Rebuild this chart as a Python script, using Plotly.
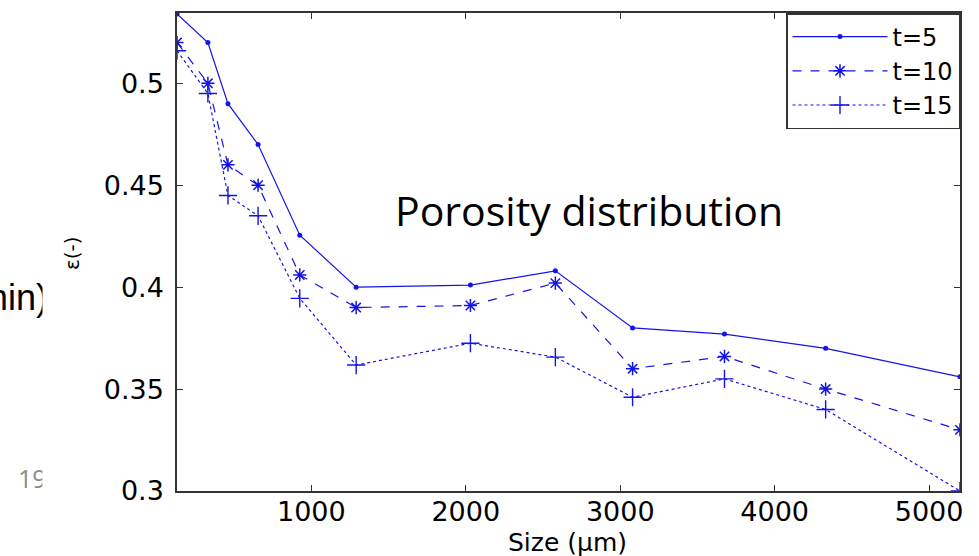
import plotly.graph_objects as go

# particle size (um) and porosity for each time
size_um = [130, 330, 460, 655, 925, 1290, 2030, 2580, 3080, 3675, 4330, 5200]
eps_t5 = [0.534, 0.520, 0.490, 0.470, 0.4255, 0.400, 0.401, 0.408, 0.380, 0.377, 0.370, 0.356]
eps_t10 = [0.520, 0.500, 0.460, 0.450, 0.406, 0.390, 0.391, 0.402, 0.360, 0.366, 0.350, 0.330]
eps_t15 = [0.516, 0.495, 0.445, 0.435, 0.3945, 0.3618, 0.3725, 0.3657, 0.346, 0.355, 0.340, 0.300]

x_ticks = [1000, 2000, 3000, 4000, 5000]
y_ticks = [0.3, 0.35, 0.4, 0.45, 0.5]
y_tick_text = ['0.3', '0.35', '0.4', '0.45', '0.5']

W, H = 979, 556
L, R, T, B = 177, 19, 13, 65
pw = W - L - R
ph = H - T - B

blue = '#1414e6'

fig = go.Figure()
fig.add_scatter(x=size_um, y=eps_t5, mode='lines+markers', name='t=5',
                line=dict(color=blue, width=1.2, dash='solid'),
                marker=dict(symbol='circle', size=5, color=blue))
fig.add_scatter(x=size_um, y=eps_t10, mode='lines+markers', name='t=10',
                line=dict(color=blue, width=1.2, dash='dash'),
                marker=dict(symbol='asterisk-open', size=11, color=blue,
                            line=dict(color=blue, width=1.5)))
fig.add_scatter(x=size_um, y=eps_t15, mode='lines+markers', name='t=15',
                line=dict(color=blue, width=1.2, dash='dot'),
                marker=dict(symbol='cross-thin-open', size=13, color=blue,
                            line=dict(color=blue, width=1.4)))

axis_style = dict(showline=True, mirror='ticks', linecolor='#333', linewidth=1.5,
                  ticks='inside', ticklen=6, tickcolor='#333', showgrid=False,
                  zeroline=False, tickfont=dict(family='DejaVu Sans', size=27, color='black'))

fig.update_xaxes(range=[130, 5200], tickvals=x_ticks, ticklabelstandoff=-4, **axis_style)
fig.update_yaxes(range=[0.3, 0.5345], tickvals=y_ticks, ticktext=y_tick_text,
                 ticklabelstandoff=6, **axis_style)


def px_x(p):
    return (p - L) / pw


def px_y(p):
    return (H - B - p) / ph


# slide fragments behind the chart image, clipped by a white block
fig.add_annotation(text='min)', xref='paper', yref='paper', x=px_x(50), y=px_y(297),
                   xanchor='right', yanchor='middle', showarrow=False,
                   font=dict(family='Liberation Sans Narrow, Liberation Sans', size=36, color='black'))
fig.add_annotation(text='19', xref='paper', yref='paper', x=px_x(16), y=px_y(478),
                   xanchor='left', yanchor='middle', showarrow=False,
                   font=dict(family='Open Sans', size=25, color='#8c8c8c'))
fig.add_annotation(text=' ', xref='paper', yref='paper', x=px_x(42), y=px_y(385),
                   xanchor='left', yanchor='middle', showarrow=False, bgcolor='white',
                   width=50, height=240, font=dict(size=10))
fig.add_annotation(text='\u03b5(-)', xref='paper', yref='paper', x=px_x(72), y=px_y(253),
                   textangle=-90, xanchor='center', yanchor='middle', showarrow=False,
                   font=dict(family='DejaVu Sans', size=20, color='black'))
fig.add_annotation(text='Size (\u03bcm)', xref='paper', yref='paper', x=px_x(567), y=px_y(542),
                   xanchor='center', yanchor='middle', showarrow=False,
                   font=dict(family='DejaVu Sans', size=25, color='black'))
fig.add_annotation(text='Porosity distribution', xref='paper', yref='paper',
                   x=px_x(589), y=px_y(210),
                   xanchor='center', yanchor='middle', showarrow=False,
                   font=dict(family='Open Sans', size=41, color='black'))

fig.update_layout(width=W, height=H, margin=dict(l=L, r=R, t=T, b=B, autoexpand=False),
                  plot_bgcolor='white', paper_bgcolor='white',
                  legend=dict(x=1, y=1, xanchor='right', yanchor='top',
                              bordercolor='#333', borderwidth=1.5, bgcolor='white',
                              font=dict(family='DejaVu Sans', size=24, color='black'),
                              tracegroupgap=0, itemwidth=95))

# page has a default body margin; drop it so the figure sits at the window corner
fig.write_html('out.html', config={'displayModeBar': False},
               post_script="document.body.style.margin='0';")
